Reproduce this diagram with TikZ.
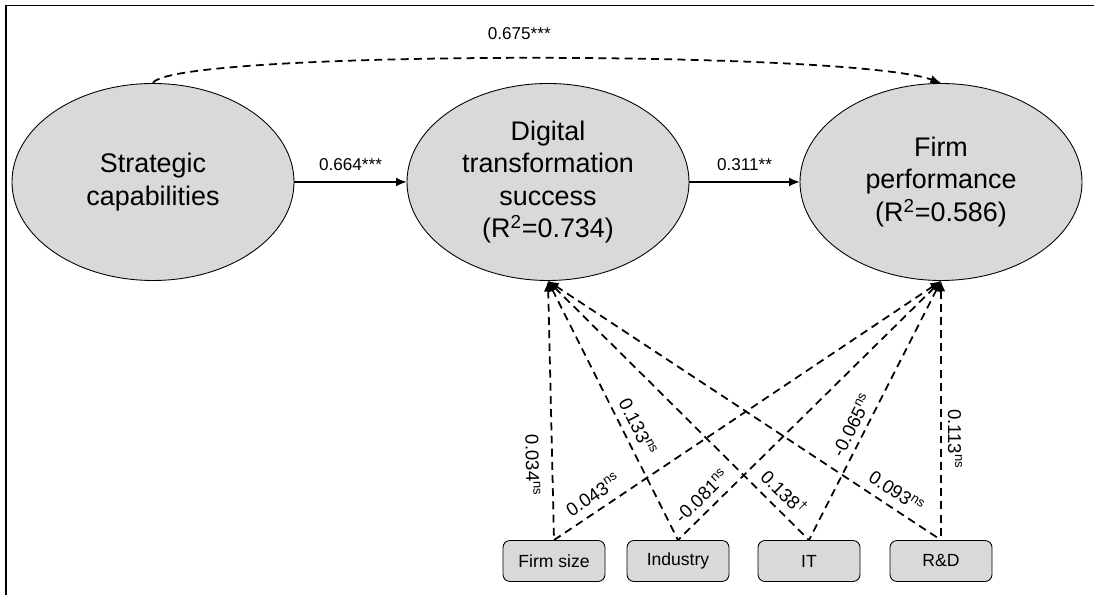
\documentclass[tikz,border=0pt]{standalone}
\usepackage{fontspec}
\setmainfont{Liberation Sans}
\usetikzlibrary{arrows.meta,shapes.geometric}
\definecolor{boxgray}{HTML}{D9D9D9}
\begin{document}
\begin{tikzpicture}[
		latent/.style={draw, ellipse, fill=boxgray, line width=0.5pt, inner sep=0pt, minimum width=5.64cm, minimum height=3.94cm, align=center, font=\fontsize{15.3}{18.5}\selectfont},
		ctrlbox/.style={draw, rounded corners=4pt, fill=boxgray, line width=0.5pt, minimum width=2.04cm, minimum height=0.82cm, font=\fontsize{10}{12}\selectfont},
		coef/.style={font=\fontsize{9.75}{11}\selectfont, inner sep=2pt},
		ctrlcoef/.style={coef, font=\fontsize{10.6}{12}\selectfont, sloped},
		direct/.style={-{Latex[length=6pt,width=5pt]}, line width=0.6pt},
		ctrl/.style={{Latex[length=6pt,width=5pt]}-, line width=1pt, dash pattern=on 4.5pt off 3pt}
	]
	\useasboundingbox (0,0) rectangle (21.88,11.9);
	\draw[line width=0.8pt] (0.12,-0.5) -- (0.12,11.79) -- (22.5,11.79);

	\node[latent] (sc) at (3.06,8.26) {Strategic\\capabilities};
	\node[latent] (dt) at (10.96,8.26) {Digital\\transformation\\success\\(R\textsuperscript{2}=0.734)};
	\node[latent] (fp) at (18.82,8.26) {Firm\\performance\\(R\textsuperscript{2}=0.586)};

	\node[ctrlbox] (fs) at (11.08,0.68) {Firm size};
	\node[ctrlbox] (ind) at (13.56,0.68) {Industry};
	\node[ctrlbox] (it) at (16.18,0.68) {IT};
	\node[ctrlbox] (rd) at (18.82,0.68) {R\&D};

	% structural paths
	\draw[direct] (sc.east) -- node[coef, above=4pt] {0.664***} (dt.west);
	\draw[direct] (dt.east) -- node[coef, above=4pt] {0.311**} (fp.west);
	\draw[direct, dash pattern=on 4.5pt off 3pt, line width=1pt] (sc.north) .. controls (3.4,10.9) and (17.0,10.9) .. node[coef, pos=0.5, above=8pt] {0.675***} (fp.north);

	% controls
	\draw[ctrl] (dt.south) -- node[ctrlcoef, below=4.5pt, pos=0.71] {0.034\textsuperscript{ns}} (fs.north);
	\draw[ctrl] (dt.south) -- node[ctrlcoef, above=2pt, pos=0.59] {0.133\textsuperscript{ns}} (ind.north);
	\draw[ctrl] (dt.south) -- node[ctrlcoef, above=2.5pt, pos=0.86] {0.138\textsuperscript{†}} (it.north);
	\draw[ctrl] (dt.south) -- node[ctrlcoef, above=2.5pt, pos=0.865] {0.093\textsuperscript{ns}} (rd.north);
	\draw[ctrl] (fp.south) -- node[ctrlcoef, above=2.5pt, pos=0.876] {0.043\textsuperscript{ns}} (fs.north);
	\draw[ctrl] (fp.south) -- node[ctrlcoef, above=2pt, pos=0.87] {-0.081\textsuperscript{ns}} (ind.north);
	\draw[ctrl] (fp.south) -- node[ctrlcoef, above=1.5pt, pos=0.58] {-0.065\textsuperscript{ns}} (it.north);
	\draw[ctrl] (fp.south) -- node[ctrlcoef, above=1.5pt, pos=0.61] {0.113\textsuperscript{ns}} (rd.north);
\end{tikzpicture}
\end{document}
